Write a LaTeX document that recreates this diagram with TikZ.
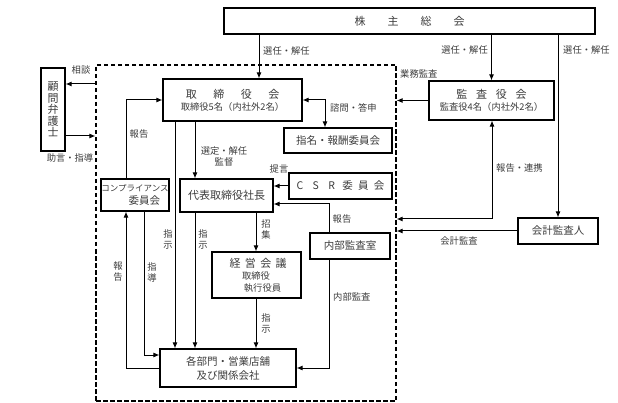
\documentclass[tikz,border=0pt]{standalone}
\usepackage{fontspec}
\setmainfont{Noto Sans CJK JP}
\usetikzlibrary{arrows.meta}
\definecolor{txt}{RGB}{60,60,60}
\tikzset{
  box/.style={draw=black, line width=1.1pt, inner sep=0pt, text=txt, font=\fontsize{11}{13}\selectfont, align=center},
  lbl/.style={inner sep=0pt, text=txt, font=\fontsize{9.3}{11}\selectfont, align=center},
  vlbl/.style={lbl, font=\fontsize{9.3}{11}\selectfont},
  arr/.style={line width=1pt, -{Latex[length=6pt,width=5pt]}},
  darr/.style={line width=1pt, {Latex[length=6pt,width=5pt]}-{Latex[length=6pt,width=5pt]}},
  ln/.style={line width=1pt},
  dashbox/.style={draw=black, line width=1.1pt, dash pattern=on 4.5pt off 2.5pt, inner sep=0pt}
}
\begin{document}
\begin{tikzpicture}[x=1pt,y=-1pt]
\useasboundingbox (0,0) rectangle (618,403);
% dashed frame
\node[dashbox, minimum width=300pt, minimum height=336pt] (dbox) at (246,233) {};
% boxes
\node[box, minimum width=371pt, minimum height=26pt] (kabu) at (409.5,21) {株\hspace{2em}主\hspace{2em}総\hspace{2em}会};
\node[box, minimum width=139pt, minimum height=42pt] (tori) at (232.5,100) {取\hspace{1.5em}締\hspace{1.5em}役\hspace{1.5em}会\\[-1pt]{\fontsize{9.3}{10}\selectfont 取締役5名（内社外2名）}};
\node[box, minimum width=125pt, minimum height=39pt] (kansa) at (491.5,100.5) {監\hspace{0.8em}査\hspace{0.8em}役\hspace{0.8em}会\\[-1pt]{\fontsize{9.3}{10}\selectfont 監査役4名（内社外2名）}};
\node[box, minimum width=24pt, minimum height=83pt, font=\fontsize{11}{11.5}\selectfont] (komon) at (53,109.5) {顧\\問\\弁\\護\\士};
\node[box, minimum width=108pt, minimum height=25pt, font=\fontsize{10.5}{12}\selectfont] (shimei) at (338,140.5) {指名・報酬委員会};
\node[box, minimum width=103pt, minimum height=26pt, font=\fontsize{10.5}{12}\selectfont] (csr) at (340.5,186) {C\hspace{0.9em}S\hspace{0.9em}R\hspace{0.7em}委\hspace{0.5em}員\hspace{0.5em}会};
\node[box, minimum width=93pt, minimum height=33pt] (daihyo) at (226.5,195.5) {代表取締役社長};
\node[box, minimum width=68pt, minimum height=32pt, font=\fontsize{8.5}{12.5}\selectfont] (comp) at (135,195) {コンプライアンス\\\hspace*{2.2em}{\fontsize{10.5}{12}\selectfont 委員会}};
\node[box, minimum width=80pt, minimum height=26pt, font=\fontsize{10.5}{12}\selectfont] (naibu) at (350,246) {内部監査室};
\node[box, minimum width=89pt, minimum height=46pt, align=left] (keiei) at (256.5,275) {\hspace*{0.3em}経\hspace{0.4em}営\hspace{0.4em}会\hspace{0.4em}議\\[-1pt]{\fontsize{9.3}{11}\selectfont\hspace*{1.7em}取締役}\\[-1pt]{\fontsize{9.3}{11}\selectfont\hspace*{1.9em}執行役員}};
\node[box, minimum width=136pt, minimum height=38pt, font=\fontsize{10.5}{14}\selectfont] (kaku) at (228,368) {各部門・営業店舗\\及び関係会社};
\node[box, minimum width=80pt, minimum height=26pt, font=\fontsize{10.5}{12}\selectfont] (kaikei) at (558,231) {会計監査人};
% helper coordinates
\coordinate (x259) at (259,0);
\coordinate (x492) at (492,219);
\coordinate (y84) at (0,84);
\coordinate (y136) at (0,136);
\coordinate (c325) at (325,100);
\coordinate (c126) at (126,100);
\coordinate (x175) at (175,0);
\coordinate (x195) at (195,0);
\coordinate (x256) at (256,0);
\coordinate (c144) at (144,355);
\coordinate (c329) at (329,204);
% connectors
\draw[arr] (kabu.south -| x259) -- (tori.north -| x259);
\node[lbl, anchor=west] (l1) at (263,51) {選任・解任};
\draw[arr] (kabu.south -| kansa.north) -- (kansa.north);
\node[lbl, anchor=east] (l2) at (488,50) {選任・解任};
\draw[arr] (kabu.south -| kaikei.north) -- (kaikei.north);
\node[lbl, anchor=west] (l3) at (563,50) {選任・解任};
\draw[arr] (kansa.west) -- (kansa.west -| dbox.east);
\node[lbl, anchor=west] (l4) at (400,74) {業務監査};
\draw[darr] (dbox.east |- x492) -- (x492) -- (kansa.south -| x492);
\node[lbl, anchor=west] (l5) at (496,168) {報告・連携};
\draw[arr] (kaikei.west) -- (kaikei.west -| dbox.east);
\node[lbl] (l6) at (459,241) {会計監査};
\draw[arr] (dbox.west |- y84) -- (komon.east |- y84);
\node[lbl] (l7) at (81,70) {相談};
\draw[arr] (komon.east |- y136) -- (dbox.west |- y136);
\node[lbl] (l8) at (70,158) {助言・指導};
\draw[darr] (shimei.north -| c325) -- (c325) -- (tori.east);
\node[lbl, anchor=west] (l9) at (330,108) {諮問・答申};
\draw[arr] (comp.north -| c126) -- (c126) -- (tori.west);
\node[lbl] (l10) at (139,134) {報告};
\draw[arr] (tori.south -| x175) -- (kaku.north -| x175);
\node[vlbl] (l11) at (168,239) {指\\示};
\draw[arr] (tori.south -| x195) -- (daihyo.north -| x195);
\node[lbl] (l12) at (224,156) {選定・解任\\監督};
\draw[arr] (daihyo.south -| x195) -- (kaku.north -| x195);
\node[vlbl] (l13) at (203,239) {指\\示};
\draw[arr] (daihyo.south -| x256) -- (keiei.north -| x256);
\node[vlbl] (l14) at (266,229) {招\\集};
\draw[arr] (keiei.south -| x256) -- (kaku.north -| x256);
\node[vlbl] (l15) at (266,323) {指\\示};
\draw[arr] (kaku.west) -- (kaku.west -| c126) -- (comp.south -| c126);
\node[vlbl] (l16) at (118,272) {報\\告};
\draw[arr] (comp.south -| c144) -- (c144) -- (kaku.west |- c144);
\node[vlbl] (l17) at (152,272) {指\\導};
\draw[arr] (csr.west) -- (daihyo.east |- csr.west);
\node[lbl] (l18) at (279,169) {提言};
\draw[arr] (naibu.north -| c329) -- (c329) -- (daihyo.east |- c329);
\node[lbl] (l19) at (342,219) {報告};
\draw[arr] (naibu.south -| c329) -- (c329 |- kaku.east) -- (kaku.east);
\node[lbl, anchor=west] (l20) at (333,297) {内部監査};
\end{tikzpicture}
\end{document}
